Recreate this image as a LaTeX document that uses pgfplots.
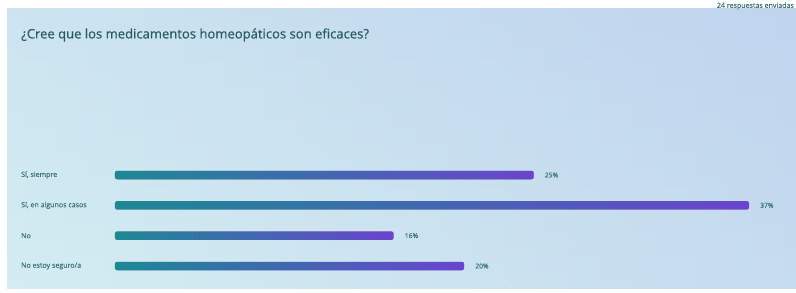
\documentclass[border=0pt]{standalone}
\usepackage{pgfplots}
\pgfplotsset{compat=1.18}
\usepackage{fontspec}
\setmainfont{Open Sans}
\definecolor{bgL}{RGB}{212,238,242}
\definecolor{bgR}{RGB}{192,212,238}
\definecolor{bgB}{RGB}{212,236,242}
\definecolor{barL}{RGB}{28,137,148}
\definecolor{barM}{RGB}{58,112,212}
\definecolor{barR}{RGB}{106,68,206}
\definecolor{titlec}{RGB}{40,92,100}
\definecolor{labc}{RGB}{62,116,122}
\begin{document}
\begin{tikzpicture}
\useasboundingbox (0,0) rectangle (796bp,293bp);
\clip (0,0) rectangle (796bp,293bp);
\fill[white] (0,0) rectangle (796bp,293bp);
\shade[left color=bgL, right color=bgR] (7bp,4bp) rectangle (796bp,284bp);
\shade[top color=bgR, bottom color=bgB, opacity=0.35] (7bp,4bp) rectangle (796bp,284bp);
\node[anchor=west, text=titlec, font=\fontsize{13.1}{16}\selectfont\addfontfeature{FakeBold=0.5}, inner sep=0] at (21bp,258bp) {¿Cree que los medicamentos homeopáticos son eficaces?};
\node[anchor=east, text=labc, font=\fontsize{7.1}{8}\selectfont\addfontfeature{FakeBold=0.3}, inner sep=0] at (794bp,287bp) {24 respuestas enviadas};
\begin{axis}[
  at={(0,0)}, anchor=south west,
  scale only axis, width=796bp, height=293bp,
  xmin=-6.711, xmax=39.743,
  ymin=-0.89, ymax=8.77,
  axis line style={draw=none},
  major tick length=0pt,
  xtick=\empty,
  ytick={0,1,2,3},
  yticklabels={No estoy seguro/a, No, {Sí, en algunos casos}, {Sí, siempre}},
  yticklabel style={anchor=west, xshift=21bp, text=labc, font=\fontsize{7.1}{8}\selectfont\addfontfeature{FakeBold=0.4}, inner sep=0},
  xbar, bar width=8.5bp, bar shift=0pt,
  point meta=explicit symbolic,
  nodes near coords,
  nodes near coords style={anchor=west, xshift=11bp, text=labc, font=\fontsize{6.8}{8}\selectfont\addfontfeature{FakeBold=0.3}, inner sep=0},
  every axis plot/.append style={draw=none, left color=barL, middle color=barM, right color=barR, rounded corners=2bp},
  clip=false,
]
\addplot coordinates {(20.37,0) [20\%]};
\addplot coordinates {(16.26,1) [16\%]};
\addplot coordinates {(37,2) [37\%]};
\addplot coordinates {(24.43,3) [25\%]};
\end{axis}
\end{tikzpicture}
\end{document}
